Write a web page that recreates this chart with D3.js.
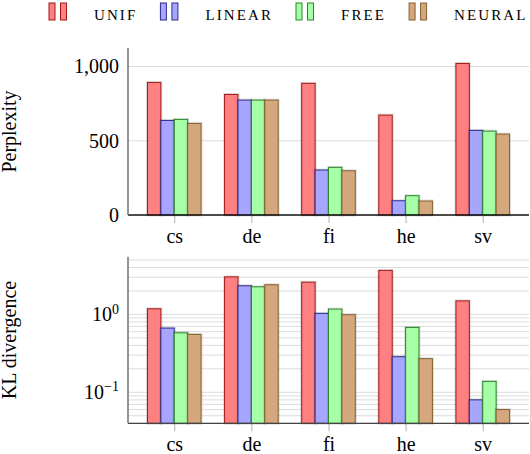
<!DOCTYPE html>
<html>
<head>
<meta charset="utf-8">
<script src="https://cdn.jsdelivr.net/npm/d3@7"></script>
<style>
  body { margin: 0; background: #fff; }
</style>
</head>
<body>
<script>
// data
const categories = ["cs", "de", "fi", "he", "sv"];
const seriesNames = ["UNIF", "LINEAR", "FREE", "NEURAL"];

const pplUnif   = [893, 812, 887, 673, 1021];
const pplLinear = [637, 774, 303, 96, 570];
const pplFree   = [644, 774, 321, 130, 565];
const pplNeural = [617, 774, 298, 94, 545];

const klUnif   = [1.18, 3.03, 2.59, 3.67, 1.49];
const klLinear = [0.667, 2.33, 1.03, 0.286, 0.080];
const klFree   = [0.58, 2.26, 1.17, 0.68, 0.138];
const klNeural = [0.553, 2.40, 0.99, 0.27, 0.060];

const pplTicks = [0, 500, 1000];
const klTicks = [0.1, 1];

const fills   = ["#ff8080", "#a6a6ff", "#a6ffa6", "#d4a87c"];
const strokes = ["#a01818", "#2c2c8c", "#2a862a", "#85602f"];

const perplexity = [pplUnif, pplLinear, pplFree, pplNeural];
const kl = [klUnif, klLinear, klFree, klNeural];

const serif = "'Liberation Serif', 'Times New Roman', serif";
const W = 530, H = 454;
const svg = d3.select("body").append("svg").attr("width", W).attr("height", H);

const left = 128, right = 529;
const barW = 13.4;

const x = d3.scalePoint().domain(categories).range([left, right]).padding(0.6);

function panel(yScale, values, gridVals, top, bottom, bottomColor) {
  const g = svg.append("g");

  // grid
  g.selectAll(".grid").data(gridVals).join("line")
    .attr("x1", left).attr("x2", right)
    .attr("y1", d => yScale(d)).attr("y2", d => yScale(d))
    .attr("stroke", "#dcdcdc").attr("stroke-width", 1);

  // bars
  values.forEach((vals, s) => {
    const bars = g.append("g");
    bars.selectAll("rect.halo").data(vals).join("rect")
      .attr("x", (d, i) => x(categories[i]) - 2 * barW + s * barW)
      .attr("y", d => yScale(d))
      .attr("width", barW)
      .attr("height", d => bottom - yScale(d))
      .attr("fill", "none")
      .attr("stroke", "rgba(0,0,0,0.12)")
      .attr("stroke-width", 3);
    bars.selectAll("rect.bar").data(vals).join("rect")
      .attr("x", (d, i) => x(categories[i]) - 2 * barW + s * barW)
      .attr("y", d => yScale(d))
      .attr("width", barW)
      .attr("height", d => bottom - yScale(d))
      .attr("fill", fills[s])
      .attr("stroke", strokes[s])
      .attr("stroke-width", 1);
  });

  // x axis
  const xa = g.append("g").attr("transform", `translate(0,${bottom})`)
    .call(d3.axisBottom(x).tickSize(8).tickPadding(6).tickSizeOuter(0));
  xa.select(".domain").remove();
  xa.selectAll(".tick line").attr("stroke", "#b0b0b0");
  xa.selectAll("text").attr("font-size", 20).style("font-family", serif);

  g.append("line").attr("x1", left).attr("x2", right)
    .attr("y1", bottom).attr("y2", bottom)
    .attr("stroke", bottomColor).attr("stroke-width", 1.3);
  g.append("line").attr("x1", left).attr("x2", left)
    .attr("y1", top).attr("y2", bottom)
    .attr("stroke", "#7a7a7a").attr("stroke-width", 1.6);
  return g;
}

// top panel: perplexity
const yTop = d3.scaleLinear().domain([0, 1125]).range([215, 48]);
const gTop = panel(yTop, perplexity, [500, 1000], 48, 215, "#111");
const ya = gTop.append("g").attr("transform", `translate(${left},0)`)
  .call(d3.axisLeft(yTop).tickValues(pplTicks).tickFormat(d3.format(",")).tickSize(0).tickPadding(9));
ya.select(".domain").remove();
ya.selectAll("text").attr("font-size", 20).style("font-family", serif);

// bottom panel: KL divergence (log)
const yBot = d3.scaleLog().domain([0.04, 5.5]).range([423.3, 256.7]);
const gBot = panel(yBot, kl, yBot.ticks(), 256.7, 423.3, "#444");
const yb = gBot.append("g").attr("transform", `translate(${left},0)`)
  .call(d3.axisLeft(yBot).tickValues(klTicks).tickSize(0).tickPadding(9));
yb.select(".domain").remove();
yb.selectAll("text")
  .attr("font-size", 20).style("font-family", serif)
  .each(function(d) {
    const t = d3.select(this);
    t.text("10");
    t.append("tspan").attr("font-size", 14).attr("dy", "-0.55em")
      .text(d3.format("d")(Math.log10(d)).replace("-", "\u2212"));
  });

// y labels
svg.append("text").attr("transform", "translate(16,131.5) rotate(-90)")
  .attr("text-anchor", "middle").attr("font-size", 20).style("font-family", serif)
  .text("Perplexity");
svg.append("text").attr("transform", "translate(16,340) rotate(-90)")
  .attr("text-anchor", "middle").attr("font-size", 20).style("font-family", serif)
  .text("KL divergence");

// legend
let lx = 49;
seriesNames.forEach((name, s) => {
  const lg = svg.append("g");
  [0, 11.5].forEach(off => {
    lg.append("rect").attr("x", lx + off).attr("y", 3).attr("width", 6).attr("height", 17)
      .attr("fill", fills[s]).attr("stroke", strokes[s]).attr("stroke-width", 1);
  });
  const t = lg.append("text").attr("x", lx + 45).attr("y", 19.5)
    .attr("font-size", 15).attr("letter-spacing", 2.1)
    .style("font-family", serif).text(name);
  lx = lx + 45 + t.node().getComputedTextLength() + 23;
});
</script>
</body>
</html>
